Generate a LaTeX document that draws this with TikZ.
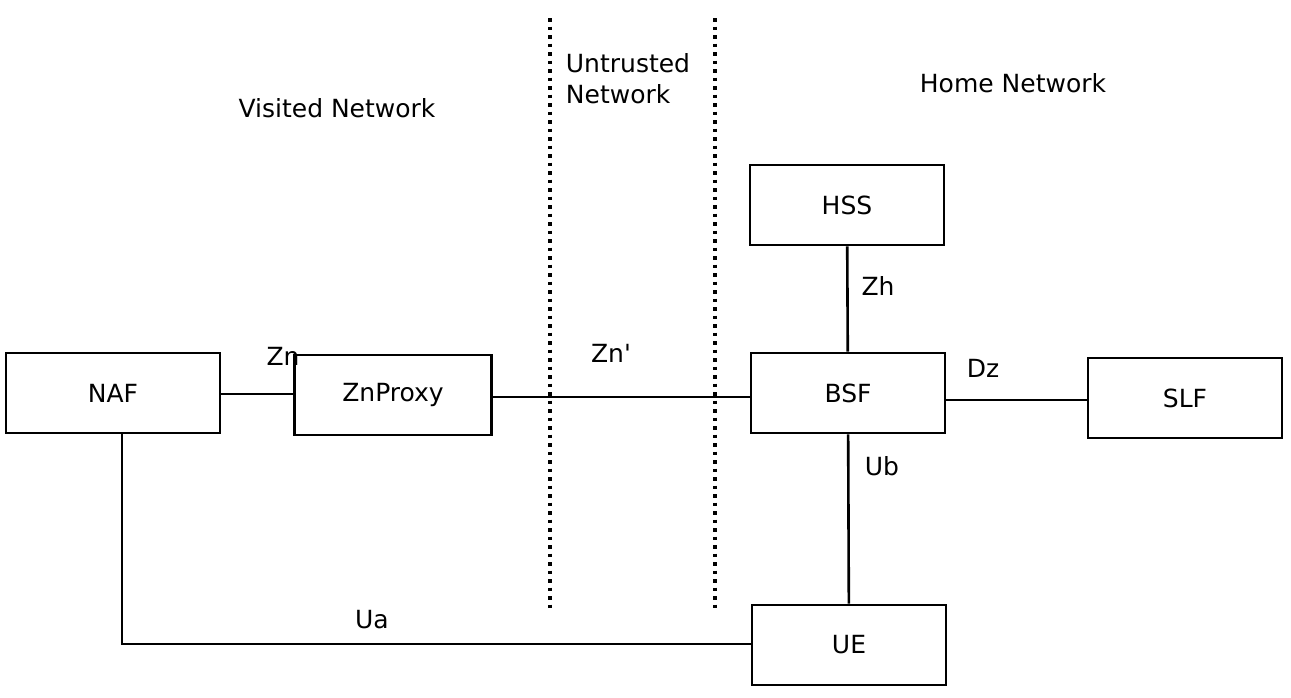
\documentclass[tikz,border=0pt]{standalone}
\usepackage{fontspec}
\setmainfont{DejaVu Sans}[Ligatures=TeXOff]
\begin{document}
\begin{tikzpicture}[x=1pt,y=-1pt,line width=2.6pt,
  box/.style={draw,minimum width=194pt,minimum height=80pt,font=\fontsize{25}{31}\selectfont},
  lbl/.style={font=\fontsize{25}{31}\selectfont,align=left},
  sep/.style={line width=3.5pt,dash pattern=on 3.5pt off 5pt}]
\useasboundingbox (0,0) rectangle (1291,697);
\node[box,minimum width=214pt] (naf) at (113,393) {NAF};
\node[box,minimum width=197pt] (zp) at (393,395) {ZnProxy};
\node[box] (hss) at (847,205) {HSS};
\node[box] (bsf) at (848,393) {BSF};
\node[box] (slf) at (1185,398) {SLF};
\node[box] (ue) at (849,645) {UE};
\draw (naf.east |- 0,394) -- (zp.west |- 0,394);
\draw (zp.east |- 0,397) -- (bsf.west |- 0,397);
\draw (bsf.east |- 0,400) -- (slf.west |- 0,400);
\draw (hss) -- (bsf);
\draw (bsf) -- (ue);
\coordinate (c) at (122,644);
\draw (naf.south -| c) -- (c) -- (ue.west |- c);
\draw[sep] (550,18) -- (550,608);
\draw[sep] (715,18) -- (715,608);
\node[lbl] (v) at (337,108) {Visited Network};
\node[lbl] (u) at (628,79) {Untrusted\\Network};
\node[lbl] (h) at (1013,83) {Home Network};
\node[lbl] (zn) at (283,356) {Zn};
\node[lbl] (znp) at (611,353) {Zn'};
\node[lbl] (zh) at (878,286) {Zh};
\node[lbl] (dz) at (983,368) {Dz};
\node[lbl] (ub) at (882,466) {Ub};
\node[lbl] (ua) at (372,620) {Ua};
\end{tikzpicture}
\end{document}
